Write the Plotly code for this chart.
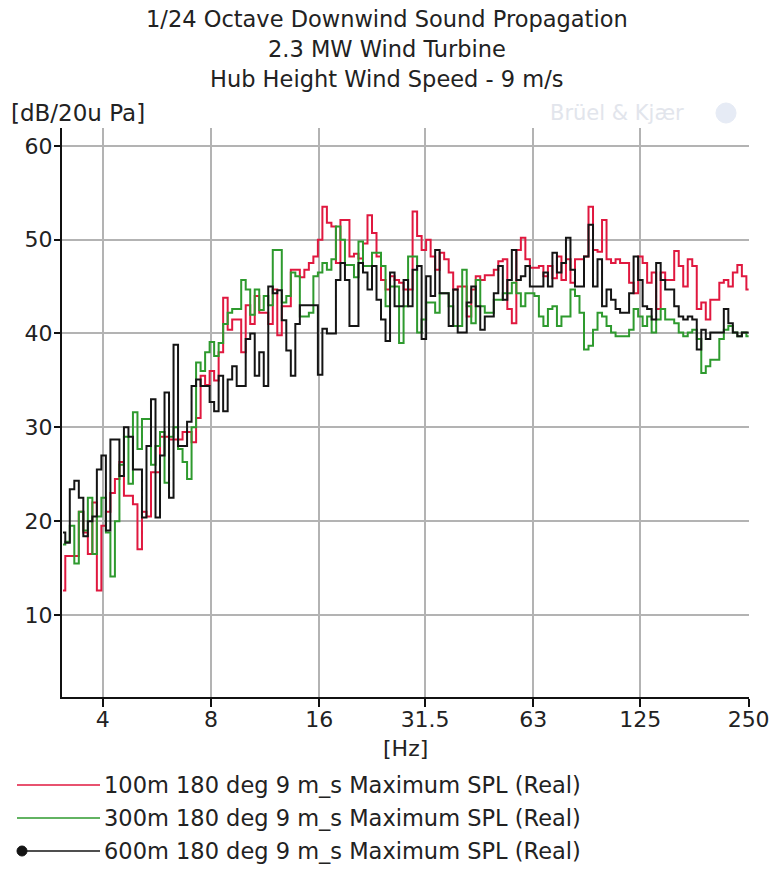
import math
import plotly.graph_objects as go

# 1/24-octave band numbers (f = 1000 * 2^(n/24)), 3.1 Hz .. 250 Hz
band_n = list(range(-200, -47))
freq_hz = [1000.0 * 2 ** (n / 24.0) for n in band_n]

spl_100m = [
    12.6, 16.3, 16.3, 16.3, 21.0, 18.8, 16.5, 22.0, 12.6, 19.5, 21.0, 23.0, 24.5, 26.3, 22.7, 22.7,
    21.8, 17.0, 21.0, 20.5, 25.2, 25.2, 29.0, 29.0, 28.7, 28.7, 28.7, 29.5, 29.5, 28.4, 31.0,
    35.5, 34.5, 36.0, 35.0, 38.0, 43.8, 40.4, 41.5, 41.5, 38.0, 43.0, 41.0, 44.0, 42.2, 42.2, 41.0,
    44.7, 39.8, 42.9, 42.9, 46.8, 46.8, 46.0, 46.8, 47.5, 48.2, 50.0, 53.5, 51.8, 51.4, 47.5,
    52.1, 52.1, 48.2, 48.5, 48.0, 49.6, 52.6, 50.7, 48.2, 45.7, 44.7, 46.1, 45.7, 45.4, 44.7, 44.7,
    53.0, 50.4, 48.9, 50.0, 48.2, 46.8, 48.6, 47.9, 46.5, 44.7, 45.0, 45.0, 41.8, 44.7, 46.1,
    45.7, 46.2, 46.2, 46.8, 47.7, 47.9, 42.6, 41.1, 48.9, 50.2, 47.9, 47.0, 47.0, 47.2, 46.1, 47.2,
    45.9, 48.2, 45.7, 47.9, 45.4, 47.9, 47.9, 48.2, 53.5, 48.9, 48.7, 52.1, 47.9, 47.5, 47.9,
    47.5, 47.5, 45.4, 44.3, 48.2, 47.5, 45.4, 46.5, 42.6, 46.5, 45.7, 45.7, 48.8, 47.2, 45.0,
    47.9, 47.2, 42.6, 43.3, 41.5, 43.6, 43.6, 45.4, 45.7, 45.0, 46.5, 47.3, 46.1, 44.7,
]

spl_300m = [
    17.5, 17.8, 19.5, 15.5, 21.0, 19.0, 22.5, 16.5, 20.5, 22.5, 18.8, 14.1, 20.0, 26.0, 29.0, 24.0,
    31.6, 27.7, 30.9, 30.9, 26.0, 28.0, 29.5, 24.1, 29.0, 30.0, 27.7, 26.3, 24.5, 30.0, 36.9,
    36.0, 38.0, 39.1, 37.6, 39.0, 41.0, 42.2, 42.6, 42.6, 45.7, 44.7, 42.0, 44.7, 42.5, 44.0, 43.0,
    48.9, 48.9, 43.3, 44.0, 46.5, 46.1, 41.8, 41.8, 42.2, 46.1, 46.5, 47.5, 46.8, 47.9, 51.4,
    50.0, 47.3, 47.3, 46.0, 49.8, 47.2, 47.2, 48.6, 48.6, 47.2, 42.9, 45.0, 45.0, 39.0, 42.9, 48.2,
    48.2, 40.1, 41.5, 43.3, 43.3, 42.2, 44.3, 44.3, 42.9, 40.8, 40.8, 46.8, 42.9, 41.1, 45.7,
    42.9, 42.2, 42.2, 43.6, 43.6, 44.3, 44.3, 45.4, 44.3, 42.9, 44.3, 44.3, 44.0, 41.8, 40.8, 42.6,
    42.9, 40.8, 41.8, 41.8, 44.7, 44.0, 42.2, 38.3, 38.7, 40.4, 42.2, 41.8, 40.8, 40.1, 39.7,
    39.7, 39.7, 40.4, 42.6, 41.8, 40.8, 41.8, 40.1, 41.5, 42.6, 41.5, 41.5, 41.1, 40.1, 39.7,
    40.1, 40.4, 39.4, 35.8, 36.5, 37.2, 37.2, 39.4, 40.4, 40.8, 40.1, 39.7, 40.1, 39.7,
]

spl_600m = [
    18.8, 17.7, 23.4, 24.3, 22.5, 18.4, 20.0, 20.5, 25.5, 27.0, 19.0, 28.7, 28.7, 24.8, 30.0, 29.0,
    25.5, 25.5, 20.4, 28.0, 33.0, 20.4, 27.0, 33.7, 22.5, 38.8, 28.0, 28.0, 30.6, 34.4, 35.1,
    34.4, 34.4, 32.7, 31.7, 35.5, 31.7, 35.1, 36.5, 34.4, 34.4, 39.4, 40.0, 35.5, 38.0, 34.4, 45.0,
    44.3, 44.6, 41.4, 38.2, 35.5, 41.0, 43.0, 43.0, 43.0, 43.0, 35.6, 40.5, 40.0, 40.0, 45.7,
    47.5, 45.7, 40.8, 40.8, 47.5, 46.5, 44.7, 47.2, 43.6, 41.5, 39.2, 46.5, 42.9, 42.9, 45.7, 42.9,
    46.8, 47.2, 39.4, 46.1, 44.0, 48.9, 44.3, 44.3, 40.8, 44.7, 40.1, 40.1, 43.3, 45.0, 42.9,
    40.4, 41.8, 41.8, 44.3, 47.2, 43.6, 45.7, 48.9, 45.7, 46.1, 47.2, 45.0, 45.0, 45.0, 46.5, 45.0,
    48.6, 46.5, 47.5, 50.2, 46.8, 45.0, 45.0, 48.2, 51.6, 45.0, 47.9, 42.9, 44.7, 43.6, 42.6,
    42.2, 42.2, 44.3, 48.2, 45.7, 42.9, 42.6, 41.5, 47.5, 45.7, 44.7, 44.7, 42.9, 41.8, 41.5,
    41.8, 41.5, 38.3, 40.4, 39.4, 40.1, 40.1, 40.1, 42.6, 41.1, 40.1, 39.7, 40.1, 40.1,
]

series_names = [
    "100m 180 deg 9 m_s Maximum SPL (Real)",
    "300m 180 deg 9 m_s Maximum SPL (Real)",
    "600m 180 deg 9 m_s Maximum SPL (Real)",
]
series_colors = ["#e0183f", "#2e9a2e", "#141414"]

x_tick_vals = [4, 8, 16, 31.5, 63, 125, 250]
x_tick_text = ["4", "8", "16", "31.5", "63", "125", "250"]
y_tick_vals = [10, 20, 30, 40, 50, 60]

title_lines = [
    "1/24 Octave Downwind Sound Propagation",
    "2.3 MW Wind Turbine",
    "Hub Height Wind Speed - 9 m/s",
]

FONT = "DejaVu Sans"
TEXT = "#222222"
W, H = 771, 869
L, R, T, B = 62, 749, 128, 697


def px_x(x):
    return (x - L) / (R - L)


def px_y(y):
    return (B - y) / (B - T)


fig = go.Figure()
for values, name, color in zip([spl_100m, spl_300m, spl_600m], series_names, series_colors):
    fig.add_trace(go.Scatter(
        x=freq_hz, y=values, name=name, mode="lines",
        line=dict(color=color, width=2, shape="hvh"),
        hoverinfo="x+y+name",
    ))

fig.update_layout(
    width=W, height=H,
    margin=dict(l=L, r=W - R, t=T, b=H - B, autoexpand=False),
    plot_bgcolor="white", paper_bgcolor="white",
    showlegend=False,
    font=dict(family=FONT, size=22, color=TEXT),
)

fig.update_xaxes(
    type="log", range=[math.log10(3.08), math.log10(250.6)],
    tickmode="array", tickvals=x_tick_vals, ticktext=x_tick_text,
    showgrid=True, gridcolor="#b3b3b3", gridwidth=2,
    showline=True, linecolor="#111111", linewidth=2,
    ticks="outside", ticklen=8, tickwidth=2, tickcolor="#111111",
    ticklabelstandoff=-6,
    zeroline=False, automargin=False, tickfont=dict(size=22, color=TEXT),
)
fig.update_yaxes(
    range=[1.26, 61.9],
    tickmode="array", tickvals=y_tick_vals,
    showgrid=True, gridcolor="#b3b3b3", gridwidth=2,
    showline=True, linecolor="#111111", linewidth=2,
    ticks="outside", ticklen=6, tickwidth=2, tickcolor="#111111",
    ticklabelstandoff=-3,
    zeroline=False, automargin=False, tickfont=dict(size=22, color=TEXT),
)

annotations = []
for line, yc in zip(title_lines, [19, 49, 79]):
    annotations.append(dict(
        text=line, xref="paper", yref="paper", x=px_x(387), y=px_y(yc),
        xanchor="center", yanchor="middle", showarrow=False,
        font=dict(family=FONT, size=22.5, color=TEXT),
    ))
annotations.append(dict(
    text="[dB/20u Pa]", xref="paper", yref="paper", x=px_x(9), y=px_y(113),
    xanchor="left", yanchor="middle", showarrow=False,
    font=dict(family=FONT, size=23, color=TEXT),
))
annotations.append(dict(
    text="Brüel & Kjær", xref="paper", yref="paper", x=px_x(548), y=px_y(113),
    xanchor="left", yanchor="middle", showarrow=False,
    font=dict(family=FONT, size=21, color="#e2e5ec"),
))
annotations.append(dict(
    text="[Hz]", xref="paper", yref="paper", x=px_x(405), y=px_y(748),
    xanchor="center", yanchor="middle", showarrow=False,
    font=dict(family=FONT, size=22, color=TEXT),
))

shapes = []
legend_rows = [785, 818, 851]
for name, color, yc in zip(series_names, series_colors, legend_rows):
    shapes.append(dict(
        type="line", xref="paper", yref="paper",
        x0=px_x(17), x1=px_x(100), y0=px_y(yc), y1=px_y(yc),
        line=dict(color=color, width=1.5),
    ))
    annotations.append(dict(
        text=name, xref="paper", yref="paper", x=px_x(102), y=px_y(yc),
        xanchor="left", yanchor="middle", showarrow=False,
        font=dict(family=FONT, size=22.5, color=TEXT),
    ))
# point marker on the last legend entry
shapes.append(dict(
    type="circle", xref="paper", yref="paper",
    x0=px_x(17), x1=px_x(27), y0=px_y(legend_rows[2] - 5), y1=px_y(legend_rows[2] + 5),
    fillcolor="#141414", line=dict(color="#141414", width=1),
))
# faint logo disc next to the watermark
shapes.append(dict(
    type="circle", xref="paper", yref="paper",
    x0=px_x(716), x1=px_x(736), y0=px_y(103), y1=px_y(123),
    fillcolor="#e6ebf5", line=dict(color="#e6ebf5", width=1),
))

fig.update_layout(annotations=annotations, shapes=shapes)
fig.write_html("out.html")
